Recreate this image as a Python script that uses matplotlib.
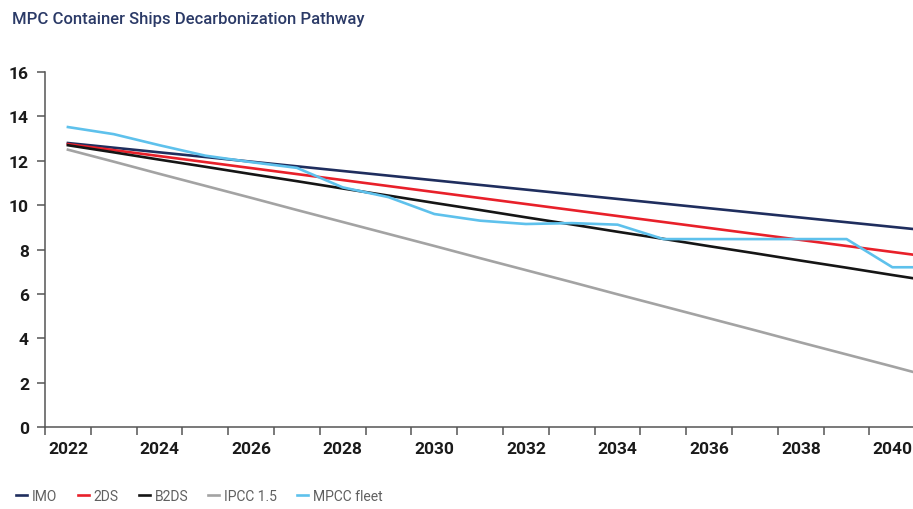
import matplotlib
matplotlib.use("Agg")
import matplotlib.pyplot as plt
from matplotlib.ticker import FixedLocator

# ---- data ----------------------------------------------------------------------
years = list(range(2022, 2042))
imo = [12.80, 12.59, 12.38, 12.17, 11.96, 11.75, 11.54, 11.33, 11.12, 10.91,
       10.70, 10.49, 10.28, 10.07, 9.86, 9.65, 9.44, 9.23, 9.02, 8.81]
two_ds = [12.75, 12.48, 12.21, 11.94, 11.67, 11.40, 11.13, 10.86, 10.59, 10.32,
          10.05, 9.78, 9.51, 9.24, 8.97, 8.70, 8.43, 8.16, 7.89, 7.62]
b2ds = [12.70, 12.38, 12.05, 11.73, 11.40, 11.08, 10.75, 10.43, 10.10, 9.78,
        9.45, 9.13, 8.80, 8.48, 8.15, 7.83, 7.50, 7.18, 6.85, 6.53]
ipcc15 = [12.50, 11.96, 11.41, 10.87, 10.33, 9.78, 9.24, 8.70, 8.16, 7.61,
          7.07, 6.53, 5.98, 5.44, 4.90, 4.36, 3.81, 3.27, 2.73, 2.18]
mpcc_fleet = [13.52, 13.20, 12.70, 12.23, 11.94, 11.68, 10.80, 10.36, 9.60, 9.30,
              9.15, 9.19, 9.12, 8.47, 8.47, 8.47, 8.47, 8.47, 7.20, 7.20]

x_labels = [str(y) for y in range(2022, 2041, 2)]
y_ticks = list(range(0, 17, 2))

series = [
    ("IMO", imo, "#1f2e5e"),
    ("2DS", two_ds, "#e8202a"),
    ("B2DS", b2ds, "#151515"),
    ("IPCC 1.5", ipcc15, "#a3a3a3"),
    ("MPCC fleet", mpcc_fleet, "#5ec1ec"),
]

plt.rcParams["font.family"] = ["Roboto", "DejaVu Sans"]

fig = plt.figure(figsize=(9.13, 5.10), dpi=100)
ax = fig.add_axes([0.0493, 0.1608, 0.9507, 0.696])

for name, vals, col in series:
    ax.plot(years, vals, color=col, linewidth=1.9, label=name)

ax.set_xlim(2021.5, 2040.45)
ax.set_ylim(0, 16)

# labels every other year, tick marks on category boundaries
ax.set_xticks([int(s) for s in x_labels])
ax.set_xticklabels(x_labels)
ax.xaxis.set_minor_locator(FixedLocator([y + 0.5 for y in range(2021, 2041)]))
ax.tick_params(axis="x", which="major", length=0, pad=10)
ax.tick_params(axis="x", which="minor", length=6, width=1.1, color="#555555")
ax.set_yticks(y_ticks)
ax.tick_params(axis="y", length=5.5, width=1.1, color="#555555", pad=6)
for lab in ax.get_xticklabels() + ax.get_yticklabels():
    lab.set_fontsize(12.5)
    lab.set_fontweight("bold")
    lab.set_color("#1a1a1a")

for side in ("top", "right"):
    ax.spines[side].set_visible(False)
for side in ("left", "bottom"):
    ax.spines[side].set_color("#555555")
    ax.spines[side].set_linewidth(1.1)

fig.text(0.013, 0.962, "MPC Container Ships Decarbonization Pathway",
         fontsize=12, fontweight="medium", color="#2b3a67", va="center", ha="left")

leg = fig.legend(loc="lower left", bbox_to_anchor=(0.004, -0.012), ncol=5,
                 frameon=False, handlelength=0.8, handletextpad=0.35,
                 columnspacing=1.45, fontsize=10)
for t in leg.get_texts():
    t.set_color("#606060")

fig.savefig("out.png", dpi=100)
